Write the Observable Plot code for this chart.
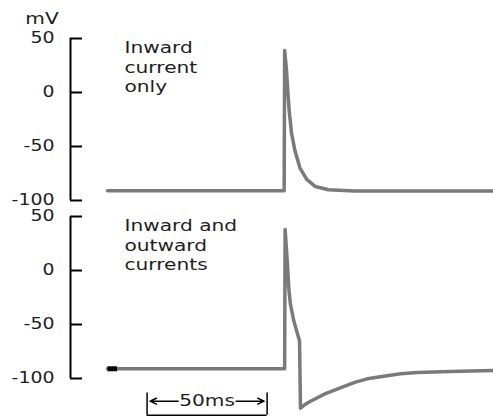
<!DOCTYPE html>
<html><head><meta charset="utf-8">
<script src="https://cdn.jsdelivr.net/npm/d3@7"></script>
<script src="https://cdn.jsdelivr.net/npm/@observablehq/plot@0.6"></script>
<style>body{margin:0;background:#fff} svg{display:block}</style>
</head><body><div id="chart"></div>
<script>
// Panels (facet keys double as their labels)
const panels = ["Inward\ncurrent\nonly", "Inward and\noutward\ncurrents"];

// Top trace: inward current only (time ms, membrane potential mV)
const inwardTime = [0, 73.6, 73.8, 74.6, 75.1, 75.7, 76.7, 78.1, 80.2, 83.0, 86.5, 92.0, 103, 130, 160.8];
const inwardMv   = [-91, -91, 39, 20, 1.5, -17, -38, -54, -70, -80.5, -87, -90, -91.3, -91.3, -91.3];

// Bottom trace: inward and outward currents
const bothTime = [0, 73.8, 74.0, 75.0, 75.5, 76.2, 77.6, 79.0, 80.0, 80.4, 80.7, 82.0, 84.0, 90.8, 97.8, 103.3, 108.2, 115.1, 122.1, 129, 142.9, 160.8];
const bothMv   = [-91, -91, 38, 5, -16, -31, -46.5, -57.5, -65, -127.5, -127, -124.5, -121.8, -114, -108, -103.4, -100.3, -97.9, -95.7, -94.5, -93.6, -92.6];

// Short dark marker at the start of the bottom trace
const markerTime = [0, 4];
const markerMv = [-91, -91];

const yTicks = [-100, -50, 0, 50];
const yUnit = "mV";
const scaleBarStart = 16.5;
const scaleBarLength = 50;
const scaleBarLabel = "50ms";

// Layout constants
const xDomain = [-15.4, 160.8];
const barTop = -113.5, barBottom = -134, barMid = -121;
const traceColor = "#7a7a7a";
const inkColor = "#1e1e1e";
const STRETCH = 1.26;

const traces = [
  ...inwardTime.map((t, i) => ({panel: panels[0], t, v: inwardMv[i]})),
  ...bothTime.map((t, i) => ({panel: panels[1], t, v: bothMv[i]}))
];
const marker = markerTime.map((t, i) => ({panel: panels[1], t, v: markerMv[i]}));
const barEnds = [scaleBarStart, scaleBarStart + scaleBarLength];
const barCenter = scaleBarStart + scaleBarLength / 2;
const bottomFy = () => panels[1];

const chart = Plot.plot({
  width: 493, height: 418,
  marginLeft: 70, marginRight: 0, marginTop: 38, marginBottom: 40,
  x: {domain: xDomain, axis: null},
  y: {domain: [-100, 50]},
  fy: {domain: panels, axis: null, paddingInner: 0.09, paddingOuter: 0, round: false},
  style: {fontFamily: "DejaVu Sans", fontSize: "15px", color: inkColor, background: "#fff"},
  marks: [
    Plot.ruleX([xDomain[0]], {y1: yTicks[0], y2: yTicks[yTicks.length - 1], stroke: "#000", strokeWidth: 2}),
    Plot.axisY(yTicks, {tickSize: -12, tickPadding: 28, stroke: "#000", strokeWidth: 2, fontSize: 15, fill: inkColor, tickFormat: d => String(d), label: null}),
    Plot.text([yUnit], {fy: () => panels[0], frameAnchor: "top-left", dx: -28.5, dy: -15, textAnchor: "middle", lineAnchor: "bottom", fontSize: 16, fill: inkColor}),
    Plot.text(panels, {fy: d => d, text: d => d, frameAnchor: "top-left", dx: 54, dy: 1, textAnchor: "start", lineAnchor: "top", lineHeight: 1.22, fontSize: 16, fill: inkColor}),
    Plot.line(traces, {x: "t", y: "v", fy: "panel", stroke: traceColor, strokeWidth: 3.5, strokeLinejoin: "round"}),
    Plot.line(marker, {x: "t", y: "v", fy: "panel", stroke: "#000", strokeWidth: 5, strokeLinecap: "butt"}),
    // 50 ms scale bar
    Plot.ruleX(barEnds, {fy: bottomFy, y1: barTop, y2: barBottom, stroke: "#000", strokeWidth: 1.5}),
    Plot.ruleY([barBottom], {fy: bottomFy, x1: barEnds[0], x2: barEnds[1], stroke: "#000", strokeWidth: 1.5}),
    Plot.arrow(barEnds, {fy: bottomFy, x1: barCenter, x2: d => d, y1: barMid, y2: barMid, insetStart: 29, insetEnd: 3, headLength: 7, headAngle: 50, stroke: "#000", strokeWidth: 1.5}),
    Plot.text([scaleBarLabel], {fy: bottomFy, x: barCenter, y: barMid, lineAnchor: "middle", textAnchor: "middle", fontSize: 16, fill: inkColor})
  ]
});
document.getElementById("chart").appendChild(chart);

// The reference typography is horizontally wide; stretch glyphs while keeping real text.
chart.querySelectorAll("text").forEach(t => {
  const spans = t.querySelectorAll("tspan");
  const targets = spans.length ? [...spans] : [t];
  targets.forEach(el => {
    const len = el.getComputedTextLength();
    if (len > 0) {
      el.setAttribute("textLength", (len * STRETCH).toFixed(1));
      el.setAttribute("lengthAdjust", "spacingAndGlyphs");
    }
  });
});
</script>
</body></html>
